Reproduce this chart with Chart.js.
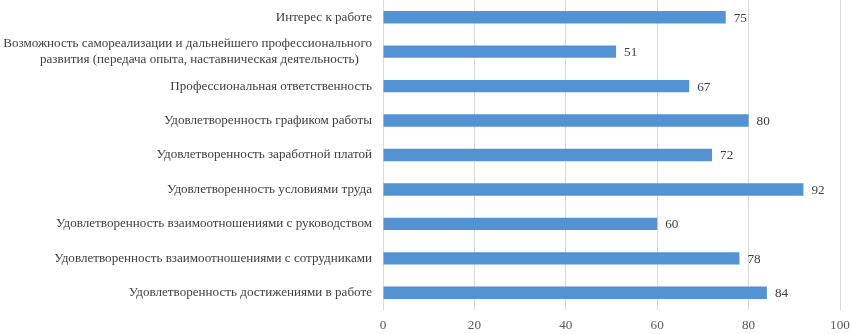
<!DOCTYPE html>
<html><head><meta charset="utf-8">
<script src="https://cdn.jsdelivr.net/npm/chart.js@4/dist/chart.umd.min.js"></script>
<style>html,body{margin:0;padding:0;background:#fff}#wrap{width:850px;height:334px}</style>
</head><body><div id="wrap"><canvas id="c" width="850" height="334"></canvas></div>
<script>
const categories = [
  "Интерес к работе",
  ["Возможность самореализации и дальнейшего профессионального", "развития (передача опыта, наставническая деятельность)    "],
  "Профессиональная ответственность",
  "Удовлетворенность графиком работы",
  "Удовлетворенность заработной платой",
  "Удовлетворенность условиями труда",
  "Удовлетворенность взаимоотношениями с руководством",
  "Удовлетворенность взаимоотношениями с сотрудниками",
  "Удовлетворенность достижениями в работе"
];
const values = [75, 51, 67, 80, 72, 92, 60, 78, 84];
const xTicks = [0, 20, 40, 60, 80, 100];

const FONT = "'Liberation Serif', 'Times New Roman', serif";

const labelPlugin = {
  id: 'valLabels',
  afterDatasetsDraw(chart) {
    const ctx = chart.ctx;
    const meta = chart.getDatasetMeta(0);
    ctx.save();
    ctx.font = "13.2px " + FONT;
    ctx.fillStyle = "#404040";
    ctx.textAlign = "left";
    ctx.textBaseline = "middle";
    meta.data.forEach((el, i) => {
      ctx.fillText(String(values[i]), el.x + 8, el.y + 1);
    });
    ctx.restore();
  }
};

new Chart(document.getElementById('c'), {
  type: 'bar',
  data: {
    labels: categories,
    datasets: [{
      data: values,
      backgroundColor: '#5393d3',
      borderWidth: 0,
      categoryPercentage: 1,
      barPercentage: 0.36
    }]
  },
  options: {
    indexAxis: 'y',
    responsive: false,
    animation: false,
    layout: { padding: { left: 0, right: 10, top: 0, bottom: 0 } },
    plugins: { legend: { display: false }, tooltip: { enabled: false } },
    scales: {
      x: {
        min: 0, max: 100,
        afterBuildTicks(scale) { scale.ticks = xTicks.map(v => ({ value: v })); },
        afterFit(scale) { scale.height = 24; scale.paddingLeft = 0; scale.paddingRight = 0; },
        grid: { color: '#d9d9d9', drawTicks: false, lineWidth: 1 },
        border: { display: false },
        ticks: { font: { family: FONT, size: 13.2 }, color: '#595959', padding: 8, maxRotation: 0 }
      },
      y: {
        afterFit(scale) { scale.width = 383; scale.paddingTop = 0; scale.paddingBottom = 0; },
        grid: { display: false, drawTicks: false },
        border: { display: false },
        ticks: { font: { family: FONT, size: 13.1, lineHeight: 1.22 }, color: '#404040', padding: 11, autoSkip: false }
      }
    }
  },
  plugins: [labelPlugin]
});
</script>
</body></html>
